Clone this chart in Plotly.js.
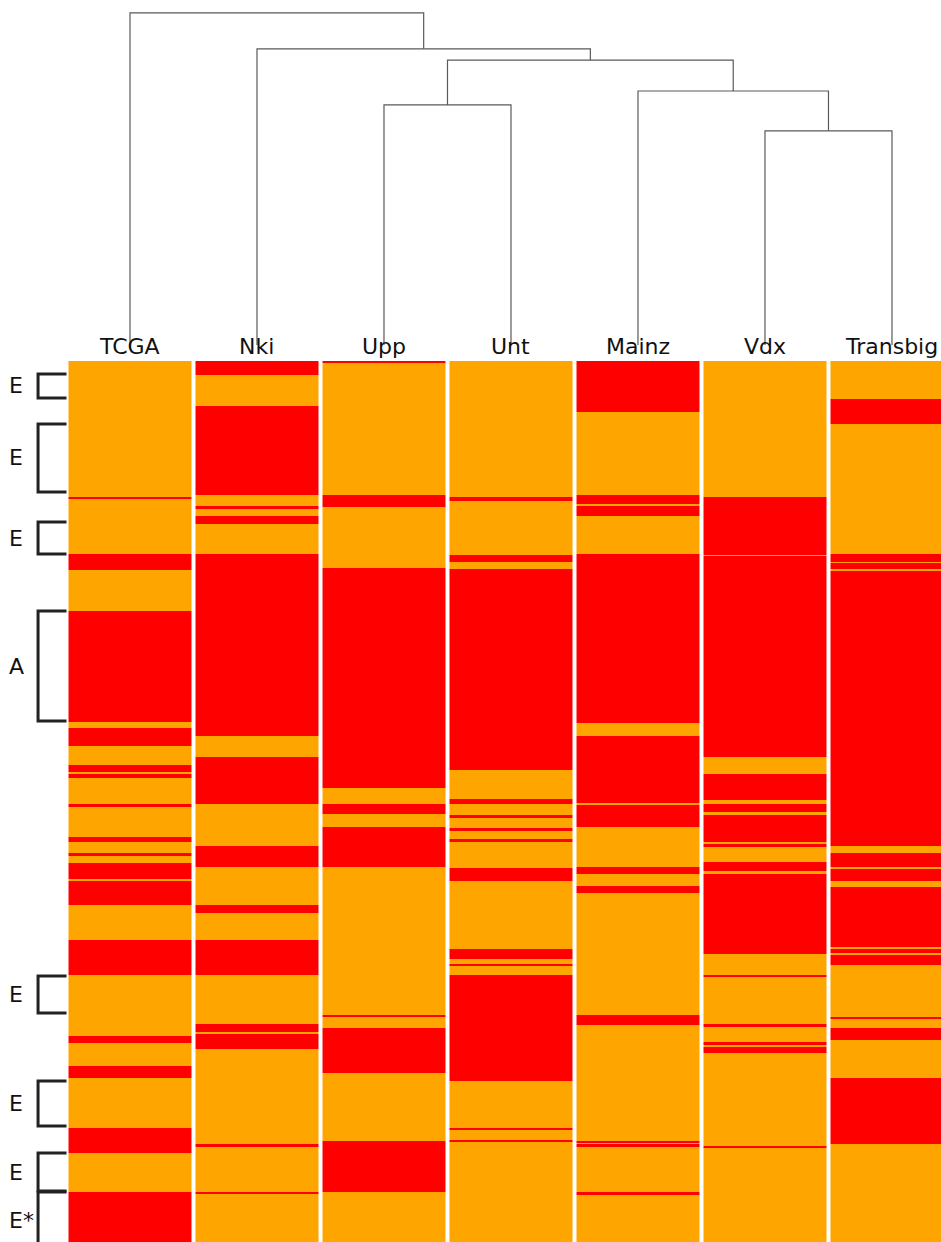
<!DOCTYPE html>
<html>
<head>
<meta charset="utf-8">
<script src="https://cdn.plot.ly/plotly-3.0.1.min.js"></script>
<style>
  html, body { margin: 0; padding: 0; background: #ffffff; }
  #chart { width: 941px; height: 1242px; }
</style>
</head>
<body>
<div id="chart"></div>
<script>
// Datasets, in dendrogram leaf order (one heatmap column each)
const datasets = ['TCGA', 'Nki', 'Upp', 'Unt', 'Mainz', 'Vdx', 'Transbig'];

// Number of rows (features) shown in the heatmap
const nRows = 881;

// Rows flagged (red) in each dataset, as [firstRow, endRow) spans; all other rows are orange
const tcga = [[136,138],[193,209],[250,361],[367,385],[404,411],[413,417],[443,446],[476,481],[492,495],[502,518],[520,544],[579,614],[675,682],[705,717],[767,792],[831,881]];
const nki = [[0,14],[45,134],[145,148],[155,163],[193,375],[396,443],[485,506],[544,552],[579,614],[663,671],[673,688],[783,786],[831,833]];
const upp = [[0,2],[134,146],[207,427],[443,453],[466,506],[654,656],[667,712],[780,831]];
const unt = [[136,140],[194,201],[208,409],[438,443],[454,457],[467,470],[478,481],[507,520],[588,598],[603,605],[614,720],[767,769],[779,781]];
const mainz = [[0,51],[134,143],[145,155],[193,362],[375,442],[444,466],[506,513],[525,532],[654,664],[780,782],[783,786],[831,834]];
const vdx = [[136,194],[195,396],[413,439],[443,451],[454,481],[483,486],[501,510],[513,593],[614,616],[663,666],[681,684],[686,692],[785,787]];
const transbig = [[38,63],[193,201],[202,208],[210,485],[492,506],[508,520],[526,586],[588,592],[594,604],[656,658],[667,679],[717,783]];

// Hierarchical clustering of the datasets: [childA, childB, height]; leaves are 0..6, new clusters 7..12
const linkage = [
  [5, 6, 0.645],
  [2, 3, 0.723],
  [4, 7, 0.765],
  [8, 9, 0.858],
  [1, 10, 0.892],
  [0, 11, 1.000]
];

// Row groups marked on the left side
const groupLabels = ['E', 'E', 'E', 'A', 'E', 'E', 'E', 'E*'];
const groupFrom   = [13, 63, 161, 250, 615, 720, 792, 831];
const groupTo     = [37, 131, 193, 360, 652, 765, 830, 887];

// ---- heatmap matrix ----
const spans = [tcga, nki, upp, unt, mainz, vdx, transbig];
const z = [];
for (let r = 0; r < nRows; r++) z.push(new Array(datasets.length).fill(0));
spans.forEach((list, c) => {
  list.forEach(([a, b]) => {
    for (let r = a; r < Math.min(b, nRows); r++) z[r][c] = 1;
  });
});
const rowCenters = [];
for (let r = 0; r < nRows; r++) rowCenters.push(r + 0.5);
const colIdx = datasets.map((_, i) => i);

const traces = [];
traces.push({
  type: 'heatmap',
  x: colIdx,
  y: rowCenters,
  z: z,
  zmin: 0, zmax: 1,
  colorscale: [[0, '#FFA500'], [0.5, '#FFA500'], [0.5, '#FF0000'], [1, '#FF0000']],
  showscale: false,
  xgap: 4,
  ygap: 0,
  hoverinfo: 'skip',
  xaxis: 'x', yaxis: 'y'
});

// ---- dendrogram ----
const nodeX = colIdx.slice();
const nodeH = colIdx.map(() => 0);
const dx = [], dy = [];
linkage.forEach(([a, b, h]) => {
  dx.push(nodeX[a], nodeX[a], nodeX[b], nodeX[b], null);
  dy.push(nodeH[a], h, h, nodeH[b], null);
  nodeX.push((nodeX[a] + nodeX[b]) / 2);
  nodeH.push(h);
});
traces.push({
  type: 'scatter', mode: 'lines',
  x: dx, y: dy,
  line: { color: '#5a5a5a', width: 1.2 },
  hoverinfo: 'skip',
  xaxis: 'x', yaxis: 'y2'
});

// ---- group brackets ----
const armX = -0.5, spineX = -0.724;
const bx = [], by = [];
groupLabels.forEach((_, i) => {
  bx.push(armX, spineX, spineX, armX, null);
  by.push(groupFrom[i], groupFrom[i], groupTo[i], groupTo[i], null);
});
traces.push({
  type: 'scatter', mode: 'lines',
  x: bx, y: by,
  line: { color: '#222222', width: 3 },
  hoverinfo: 'skip',
  xaxis: 'x', yaxis: 'y'
});

const annotations = [];
const font = { family: 'DejaVu Sans', size: 22, color: '#111111' };
datasets.forEach((name, i) => {
  annotations.push({
    text: name, x: i, xref: 'x', y: (1242 - 346) / 1242, yref: 'paper',
    xanchor: 'center', yanchor: 'middle', showarrow: false, font: font
  });
});
groupLabels.forEach((lab, i) => {
  annotations.push({
    text: lab, x: -0.965, xref: 'x', y: (groupFrom[i] + groupTo[i]) / 2, yref: 'y',
    xanchor: 'left', yanchor: 'middle', showarrow: false, font: font
  });
});

const hidden = {
  showgrid: false, zeroline: false, showticklabels: false, ticks: '', showline: false
};

const layout = {
  width: 941, height: 1242, autosize: false,
  margin: { l: 0, r: 0, t: 0, b: 0, pad: 0 },
  paper_bgcolor: '#ffffff', plot_bgcolor: 'rgba(0,0,0,0)',
  showlegend: false,
  xaxis: Object.assign({ range: [-1.0236, 6.386], anchor: 'y', fixedrange: true }, hidden),
  yaxis: Object.assign({ range: [nRows, 0], domain: [0, (1242 - 361) / 1242], fixedrange: true }, hidden),
  yaxis2: Object.assign({ range: [0, 1.03], domain: [(1242 - 345) / 1242, (1242 - 3) / 1242], anchor: 'x', fixedrange: true }, hidden),
  annotations: annotations
};

Plotly.newPlot('chart', traces, layout, { staticPlot: true, displayModeBar: false });
</script>
</body>
</html>
